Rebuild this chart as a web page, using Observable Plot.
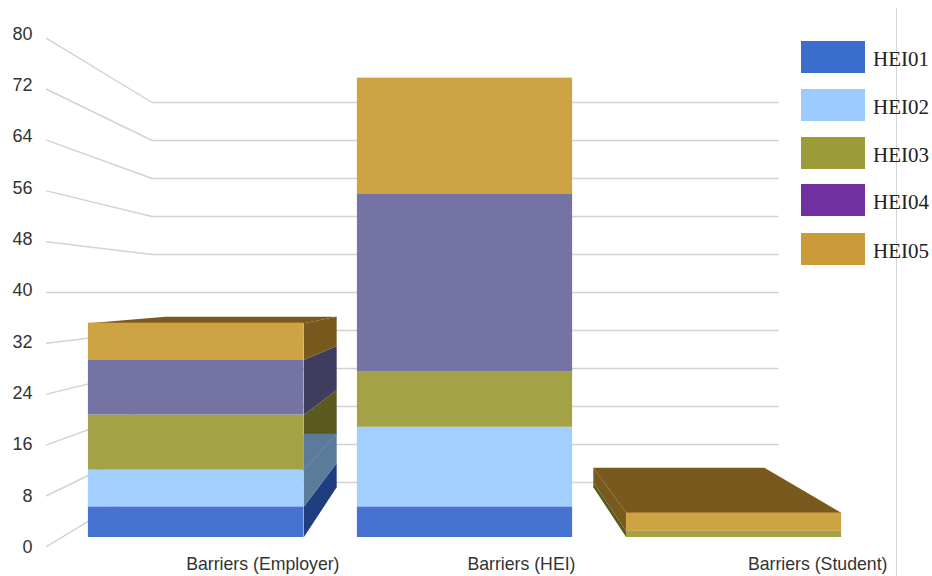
<!DOCTYPE html>
<html>
<head>
<meta charset="utf-8">
<script src="https://cdn.jsdelivr.net/npm/d3@7"></script>
<script src="https://cdn.jsdelivr.net/npm/@observablehq/plot@0.6"></script>
<style>
  html, body { margin: 0; padding: 0; background: #fff; overflow: hidden; }
  #chart { position: relative; width: 932px; height: 576px; }
  #chart svg { display: block; }
  .legend-row { position: absolute; left: 801px; display: flex; align-items: center; height: 32px; }
  .legend-row i { display: block; width: 64px; height: 32px; }
  .legend-row span { margin-left: 8px; margin-top: 3px; font: 21px "Liberation Serif", serif; color: #222; line-height: 32px; }
</style>
</head>
<body>
<div id="chart"></div>
<script>
// Stacked values per category
const categories = ["Barriers (Employer)", "Barriers (HEI)", "Barriers (Student)"];
const hei01 = [5, 5, 0];
const hei02 = [6, 13, 0];
const hei03 = [9, 9, 1];
const hei04 = [9, 29, 0];
const hei05 = [6, 19, 3];
const seriesNames = ["HEI01", "HEI02", "HEI03", "HEI04", "HEI05"];
const seriesValues = [hei01, hei02, hei03, hei04, hei05];
const ticks = [0, 8, 16, 24, 32, 40, 48, 56, 64, 72, 80];

// Face colours: lit front, shaded side and top, and legend swatches
const frontColors = ["#4673d1", "#a2cfff", "#a3a247", "#7473a3", "#cea344"];
const sideColors = ["#1e3e80", "#5c7a99", "#5a5a1e", "#3f3d5f", "#785a1e"];
const legendColors = ["#3b6dcc", "#9ccbff", "#9c9b3a", "#7030a0", "#ca9a38"];

// Perspective layout. x is in category slots from the centre bar, y in values,
// and depth s shrinks both towards the vanishing point at (0, 40).
const vanishY = 40;
const halfBar = 0.4;
const barBack = 0.795;
const wallDepth = 0.7755;
const axisDepth = 1.037;
const labelDepth = 1.048;
const wallEdge = 1.5;
const tickLabelX = -1.608;
const categoryLabelEnd = [-0.4665, 0.4108, 1.5706];
const categoryLabelY = -4.4;
const frameX = 1.604;
const frameTop = 86.4;

const project = (u, v, s) => ({x: u * s, y: vanishY + (v - vanishY) * s});

// Cumulative stack segments
const segments = [];
categories.forEach((category, c) => {
  let base = 0;
  seriesValues.forEach((values, i) => {
    const value = values[c];
    if (value > 0) {
      segments.push({category, center: c - 1, series: i, base, top: base + value});
      base += value;
    }
  });
});

const barTops = categories.map((_, c) => d3.sum(seriesValues, values => values[c]));

// Gridlines run along the left wall and then across the back wall
const gridPoints = ticks.flatMap(tick => [
  {tick, ...project(-wallEdge, tick, axisDepth)},
  {tick, ...project(-wallEdge, tick, wallDepth)},
  {tick, ...project(wallEdge, tick, wallDepth)}
]);

const faces = [];
// Inner side of each outer bar
segments.filter(d => d.center !== 0).forEach(d => {
  const edge = d.center < 0 ? d.center + halfBar : d.center - halfBar;
  faces.push({
    fill: sideColors[d.series],
    points: [project(edge, d.base, 1), project(edge, d.top, 1), project(edge, d.top, barBack), project(edge, d.base, barBack)]
  });
});
// The shaded HEI02 side also washes over the corner of the face above it
const wedges = segments.filter(d => d.center < 0 && d.series === 1).map(d => {
  const edge = d.center + halfBar;
  const near = project(edge, d.top, 1);
  const far = project(edge, d.top, barBack);
  return [near, far, {x: edge, y: far.y}];
});
wedges.forEach(points => faces.push({fill: sideColors[1], points}));
// Top of each outer bar, coloured by its last series
categories.forEach((_, c) => {
  const center = c - 1;
  if (center === 0) return;
  const top = barTops[c];
  faces.push({
    fill: sideColors[4],
    points: [
      project(center - halfBar, top, 1), project(center + halfBar, top, 1),
      project(center + halfBar, top, barBack), project(center - halfBar, top, barBack)
    ]
  });
});

const plot = Plot.plot({
  width: 932,
  height: 576,
  margin: 0,
  x: {domain: [-464.5 / 269, 467.5 / 269], range: [0, 932], axis: null},
  y: {domain: [-39 / 6.125, 537 / 6.125], range: [576, 0], axis: null},
  style: {background: "#fff"},
  marks: [
    Plot.ruleX([frameX], {y1: -39 / 6.125, y2: frameTop, stroke: "#d4d4d4", strokeWidth: 1}),
    Plot.line(gridPoints, {x: "x", y: "y", z: "tick", stroke: "#d2d2d2", strokeWidth: 1.4}),
    ...faces.map(face => Plot.line(face.points, {x: "x", y: "y", fill: face.fill, stroke: "none"})),
    ...wedges.map(points => Plot.line([points[0], points[1]], {x: "x", y: "y", stroke: "#6f8dab", strokeWidth: 0.8})),
    Plot.rect(segments, {
      x1: d => d.center - halfBar,
      x2: d => d.center + halfBar,
      y1: "base",
      y2: "top",
      fill: d => frontColors[d.series]
    }),
    Plot.text(ticks, {
      x: () => tickLabelX,
      y: d => project(0, d, labelDepth).y,
      text: d => String(d),
      dy: -2,
      textAnchor: "end",
      fontFamily: "Liberation Sans",
      fontSize: 18,
      fill: "#333"
    }),
    Plot.text(categories, {
      x: (d, i) => categoryLabelEnd[i],
      y: () => categoryLabelY,
      text: d => d,
      textAnchor: "end",
      fontFamily: "Liberation Sans",
      fontSize: 17.7,
      fill: "#333"
    })
  ]
});

const chart = document.getElementById("chart");
chart.append(plot);

// Legend rows sit over the top right of the chart
const legendTops = [41, 89, 137, 184, 233];
seriesNames.forEach((name, i) => {
  const row = document.createElement("div");
  row.className = "legend-row";
  row.style.top = legendTops[i] + "px";
  const swatch = document.createElement("i");
  swatch.style.background = legendColors[i];
  const label = document.createElement("span");
  label.textContent = name;
  row.append(swatch, label);
  chart.append(row);
});
</script>
</body>
</html>
